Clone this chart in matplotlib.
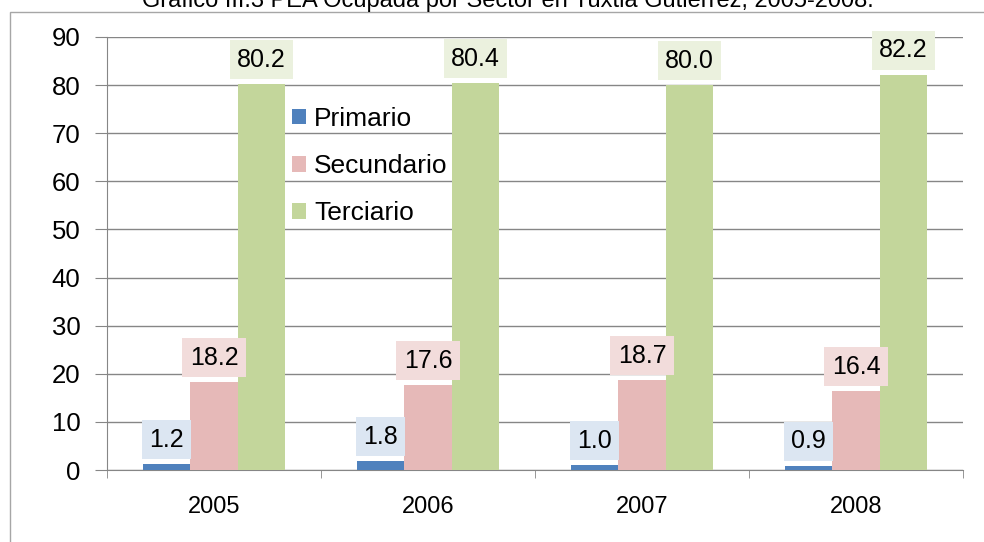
import matplotlib
matplotlib.use('Agg')
import matplotlib.pyplot as plt
import numpy as np

plt.rcParams['font.family'] = ['Liberation Sans', 'DejaVu Sans']

# data
years = ['2005', '2006', '2007', '2008']
primario = [1.2, 1.8, 1.0, 0.9]
secundario = [18.2, 17.6, 18.7, 16.4]
terciario = [80.2, 80.4, 80.0, 82.2]
series_names = ['Primario', 'Secundario', 'Terciario']

bar_colors = ['#4f81bd', '#e6b9b8', '#c3d69b']
box_colors = ['#dce6f2', '#f2dcdb', '#ebf1de']

fig = plt.figure(figsize=(9.84, 5.42), dpi=100)

# outer frame of the chart object
frame = plt.Rectangle((10 / 984, -0.1), 1.2, 0.978 + 0.1, transform=fig.transFigure,
                      fill=False, edgecolor='#a6a6a6', linewidth=1.0)
fig.add_artist(frame)

fig.text(0.516, 1 - 7 / 542, 'Gráfico III.3 PEA Ocupada por Sector en Tuxtla Gutiérrez, 2005-2008.',
         ha='center', va='baseline', fontsize=17)

ax = fig.add_axes([107 / 984, 1 - 470 / 542, (963 - 107) / 984, (470 - 37) / 542])

x = np.arange(len(years))
w = 0.222
for i, vals in enumerate([primario, secundario, terciario]):
    pos = x + (i - 1) * w
    ax.bar(pos, vals, width=w, color=bar_colors[i], label=series_names[i], zorder=3)
    for p, v in zip(pos, vals):
        ax.annotate('%.1f' % v, (p, v), xytext=(0, 9), textcoords='offset points',
                    ha='center', va='bottom', fontsize=18, zorder=4,
                    bbox=dict(boxstyle='square,pad=0.3', fc=box_colors[i], ec='none'))

ax.set_xlim(-0.5, len(years) - 0.5)
ax.set_ylim(0, 90)
ax.set_yticks(range(0, 91, 10))
ax.tick_params(axis='y', labelsize=18.5, length=9, color='#868686', pad=10)
ax.set_xticks(x)
ax.set_xticklabels(years)
ax.tick_params(axis='x', labelsize=17, length=0, pad=19)
ax.set_xticks(np.arange(-0.5, len(years), 1.0), minor=True)
ax.tick_params(axis='x', which='minor', length=6, color='#868686')
ax.yaxis.grid(True, color='#868686', linewidth=1.0, zorder=0)
ax.set_axisbelow(True)
for s in ['top', 'right']:
    ax.spines[s].set_visible(False)
for s in ['left', 'bottom']:
    ax.spines[s].set_color('#868686')

leg = ax.legend(loc='center left', bbox_to_anchor=(0.216, 0.702), frameon=False,
                fontsize=19, handlelength=0.55, handleheight=0.55, handletextpad=0.3,
                labelspacing=0.88, borderaxespad=0, borderpad=0)

fig.savefig('out.png', dpi=100)
